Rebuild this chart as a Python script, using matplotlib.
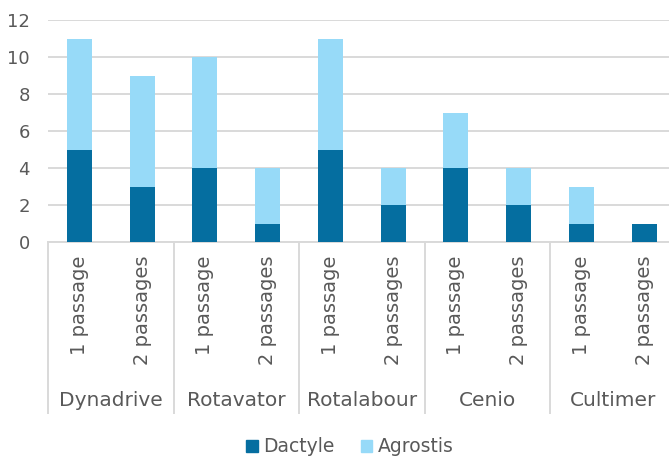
import matplotlib
matplotlib.use("Agg")
from matplotlib import pyplot as plt
from matplotlib.patches import Patch
import numpy as np

# data
machines = ["Dynadrive", "Rotavator", "Rotalabour", "Cenio", "Cultimer"]
passages = ["1 passage", "2 passages"]
dactyle = [5, 3, 4, 1, 5, 2, 4, 2, 1, 1]
agrostis = [6, 6, 6, 3, 6, 2, 3, 2, 2, 0]
yticks = [0, 2, 4, 6, 8, 10, 12]

dark = "#056EA0"
light = "#97DAF8"
grey_txt = "#595959"
grid_col = "#D9D9D9"

plt.rcParams["font.family"] = ["DejaVu Sans"]

W, H = 669, 458
fig = plt.figure(figsize=(W / 100, H / 100), dpi=100)
# plot area in pixels: x 48..675.5, y 20..242
left, right, top, bottom = 48, 675.5, 20, 242
ax = fig.add_axes([left / W, (H - bottom) / H, (right - left) / W, (bottom - top) / H])

xs = np.arange(len(dactyle))
labels = [p for m in machines for p in passages]

ax.bar(xs, dactyle, width=0.4, color=dark, zorder=3)
ax.bar(xs, agrostis, width=0.4, bottom=dactyle, color=light, zorder=3)

ax.set_xlim(-0.5, len(xs) - 0.5)
ax.set_ylim(0, 12)
ax.set_yticks(yticks)
ax.set_yticklabels([str(t) for t in yticks], fontsize=13, color=grey_txt)
ax.tick_params(axis="y", length=0, pad=13)
ax.yaxis.grid(True, color=grid_col, linewidth=1.4, zorder=0)
ax.set_axisbelow(True)

ax.set_xticks(xs)
ax.set_xticklabels(labels, rotation=90, fontsize=14, color=grey_txt, va="top")
ax.tick_params(axis="x", length=0, pad=10)

for s in ["top", "right", "left"]:
    ax.spines[s].set_visible(False)
ax.spines["bottom"].set_color(grid_col)
ax.spines["bottom"].set_linewidth(1.4)

# group separators and group names
trans = ax.get_xaxis_transform()
sep_bottom = (bottom - 413) / (bottom - top)
for i in range(len(machines) + 1):
    xsep = i * 2 - 0.5
    ax.plot([xsep, xsep], [0, sep_bottom], color=grid_col, linewidth=1.4,
            transform=trans, clip_on=False)
name_y = (bottom - 400) / (bottom - top)
for i, m in enumerate(machines):
    ax.text(i * 2 + 0.5, name_y, m, transform=trans, ha="center", va="center",
            fontsize=14.5, color=grey_txt)

handles = [Patch(color=dark, label="Dactyle"), Patch(color=light, label="Agrostis")]
leg = fig.legend(handles=handles, loc="center", bbox_to_anchor=(350 / W, 1 - 447 / H),
                 ncol=2, frameon=False, fontsize=13.5, handlelength=0.6,
                 handleheight=0.6, handletextpad=0.3, columnspacing=1.4)
for t in leg.get_texts():
    t.set_color(grey_txt)

fig.savefig("out.png", dpi=100)
